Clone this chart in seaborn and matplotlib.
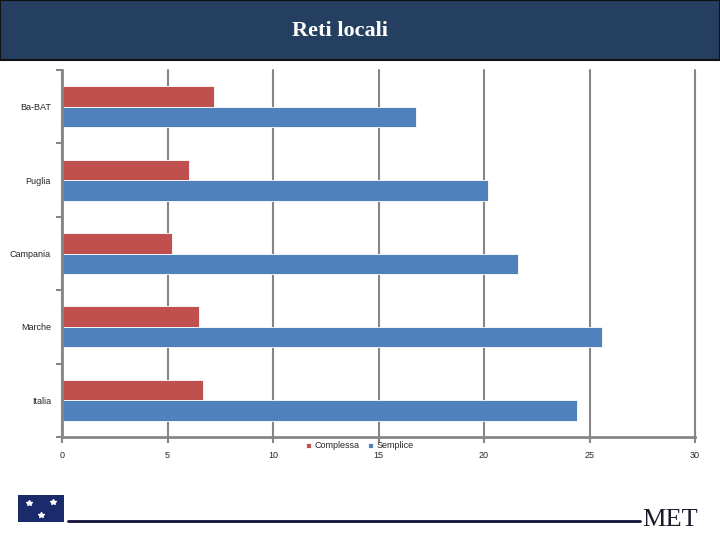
import pandas as pd
import matplotlib
matplotlib.use('Agg')
import matplotlib.pyplot as plt
from matplotlib.patches import Rectangle
from matplotlib.lines import Line2D
from matplotlib.ticker import FixedLocator
import seaborn as sns

# data
regioni = ['Ba-BAT', 'Puglia', 'Campania', 'Marche', 'Italia']
complessa = [7.2, 6.0, 5.2, 6.5, 6.7]
semplice = [16.8, 20.2, 21.6, 25.6, 24.4]
serie = ['Complessa', 'Semplice']
x_ticks = [0, 5, 10, 15, 20, 25, 30]

df = pd.DataFrame({
    'regione': regioni * 2,
    'valore': complessa + semplice,
    'serie': [serie[0]] * len(regioni) + [serie[1]] * len(regioni),
})

sns.set_theme(style='white')
plt.rcParams['font.family'] = ['Liberation Sans', 'DejaVu Sans']

fig = plt.figure(figsize=(7.2, 5.4), dpi=100)
ax = fig.add_axes([62 / 720, 1 - 437 / 540, 633 / 720, 367 / 540])

grey = '#868686'
ax.set_axisbelow(True)
ax.grid(axis='x', color=grey, linewidth=1.5)

sns.barplot(data=df, x='valore', y='regione', hue='serie', hue_order=serie,
            order=regioni, orient='h', palette=['#C0504D', '#4F81BD'],
            saturation=1, width=0.56, edgecolor='white', linewidth=0.6, ax=ax)

ax.set_xlim(0, 30)
ax.set_ylim(len(regioni) - 0.5, -0.5)
ax.set_xticks(x_ticks)
ax.set_xticklabels([str(t) for t in x_ticks], fontsize=6.5)
ax.set_xlabel('')
ax.set_ylabel('')
for gl in ax.get_xgridlines():
    gl.set_clip_on(False)
ax.tick_params(axis='y', which='major', length=0, labelsize=6.5, pad=8)
ax.yaxis.set_minor_locator(FixedLocator([i - 0.5 for i in range(len(regioni) + 1)]))
ax.tick_params(axis='y', which='minor', left=True, length=4, width=1.5, color=grey)
ax.tick_params(axis='x', bottom=True, length=4, width=1.5, color=grey, pad=6)

for s in ['top', 'right']:
    ax.spines[s].set_visible(False)
for s in ['left', 'bottom']:
    ax.spines[s].set_color(grey)
    ax.spines[s].set_linewidth(2)

ax.legend(loc='center', bbox_to_anchor=(360 / 720, 1 - 446 / 540),
          bbox_transform=fig.transFigure, ncol=2, frameon=False,
          handlelength=0.5, handleheight=0.5, handletextpad=0.4,
          columnspacing=1.0, fontsize=6.5)

# header band
fig.add_artist(Rectangle((0, 1 - 60 / 540), 1, 60 / 540, transform=fig.transFigure,
                         facecolor='#253F60', edgecolor='#111111', linewidth=1.5))
fig.text(340 / 720, 1 - 31 / 540, 'Reti locali', color='white', ha='center', va='center',
         fontsize=16, fontweight='bold', family='Liberation Serif')

# footer: logo, rule and MET
fig.add_artist(Rectangle((18 / 720, 1 - 522 / 540), 46 / 720, 27 / 540,
                         transform=fig.transFigure, facecolor='#1B2A6B', edgecolor='none'))
for sx, sy in [(29, 503), (53, 502), (41, 515)]:
    fig.add_artist(Line2D([sx / 720], [1 - sy / 540], transform=fig.transFigure,
                          marker='*', markersize=4, color='white', linestyle='none'))
fig.add_artist(Line2D([68 / 720, 640 / 720], [1 - 521 / 540, 1 - 521 / 540],
                      transform=fig.transFigure, color='#10103A', linewidth=2))
fig.text(642 / 720, 1 - 526 / 540, 'MET', color='#1a1a2a', ha='left', va='baseline',
         fontsize=19, family='Liberation Serif')

plt.savefig('out.png', dpi=100)
plt.close()
